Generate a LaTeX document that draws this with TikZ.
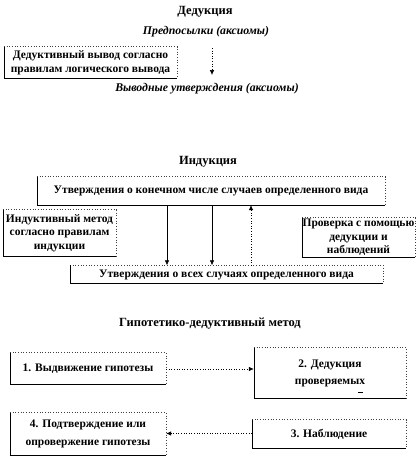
\documentclass[tikz,border=0pt]{standalone}
\usepackage{fontspec}
\setmainfont{Liberation Serif}
\usetikzlibrary{arrows.meta}
\newcommand\wbox[1]{%
  \draw[dotted,line width=0.7pt,black!75] (#1.north west) -- (#1.north east) -- (#1.south east);
  \draw[line width=0.6pt] (#1.north west) -- (#1.south west) -- (#1.south east);}
\tikzset{
  boxtext/.style={inner sep=0pt,align=center,font=\bfseries\fontsize{11.5}{14}\selectfont},
  title/.style={inner sep=0pt,font=\bfseries\fontsize{12.5}{14}\selectfont},
  ititle/.style={inner sep=0pt,font=\bfseries\itshape\fontsize{11.8}{14}\selectfont},
  arr/.style={-{Latex[length=5pt,width=4.5pt]},line width=0.6pt},
  darr/.style={arr,dotted}
}
\begin{document}
\begin{tikzpicture}[x=1pt,y=-1pt]
\useasboundingbox (0,0) rectangle (417,458);
% Deduction
\node[title] (ded) at (205,12) {Дедукция};
\node[ititle] (pre) at (206,32) {Предпосылки (аксиомы)};
\node[boxtext,minimum width=173pt,minimum height=31pt] (dbox) at (90.5,62.5) {Дедуктивный вывод согласно\\правилам логического вывода};
\wbox{dbox}
\node[ititle] (vyv) at (207,89) {Выводные утверждения (аксиомы)};
\coordinate (d1) at (212,48);
\coordinate (d2) at (212,75);
\draw[darr] (d1) -- (d2);
% Induction
\node[title] (ind) at (208,162) {Индукция};
\node[boxtext,minimum width=348pt,minimum height=28pt] (top) at (211,191) {Утверждения о конечном числе случаев определенного вида};
\wbox{top}
\node[boxtext,minimum width=113pt,minimum height=46pt,font=\bfseries\fontsize{11.5}{13.5}\selectfont] (lbox) at (59.5,233) {Индуктивный метод\\согласно правилам\\индукции};
\wbox{lbox}
\node[boxtext,minimum width=113pt,minimum height=39pt,font=\bfseries\fontsize{11.5}{13.5}\selectfont] (rbox) at (358.5,237.5) {Проверка с помощью\\дедукции и\\наблюдений};
\wbox{rbox}
\node[boxtext,minimum width=313pt,minimum height=18pt] (bot) at (226.5,274.5) {Утверждения о всех случаях определенного вида};
\wbox{bot}
\draw[arr] (top.south -| 167,0) -- (bot.north -| 167,0);
\draw[arr] (top.south -| 212,0) -- (bot.north -| 212,0);
\draw[darr] (bot.north -| 251,0) -- (top.south -| 251,0);
% Hypothetico-deductive
\node[title] (hyp) at (210,324) {Гипотетико-дедуктивный метод};
\node[boxtext,minimum width=156pt,minimum height=31pt] (b1) at (88,368.5) {1. Выдвижение гипотезы};
\wbox{b1}
\node[boxtext,minimum width=152pt,minimum height=50pt,font=\bfseries\fontsize{11.5}{17}\selectfont] (b2) at (330,373) {2. Дедукция\\проверяемых};
\wbox{b2}
\draw[line width=0.9pt] (358,392) -- (363,392);
\node[boxtext,minimum width=156pt,minimum height=42pt,font=\bfseries\fontsize{11.5}{17.5}\selectfont] (b4) at (88,434) {4. Подтверждение или\\опровержение гипотезы};
\wbox{b4}
\node[boxtext,minimum width=154pt,minimum height=28pt] (b3) at (329,434) {3. Наблюдение};
\wbox{b3}
\draw[darr] (b1.east |- 0,369) -- (b2.west |- 0,369);
\draw[darr] (b3.west |- 0,433.5) -- (b4.east |- 0,433.5);
\end{tikzpicture}
\end{document}
